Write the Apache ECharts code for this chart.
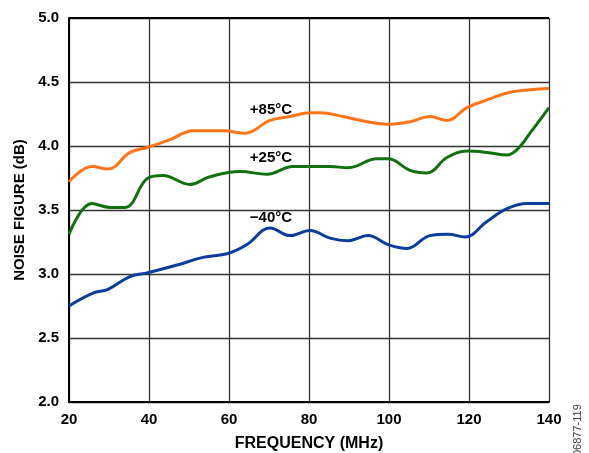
<!DOCTYPE html>
<html><head><meta charset="utf-8">
<script src="https://cdn.jsdelivr.net/npm/echarts@6/dist/echarts.min.js"></script>
<style>html,body{margin:0;padding:0;background:#fff}#c{width:589px;height:453px}</style>
</head><body><div id="c"></div>
<script>
const freqP85 = [20,25.75,29.75,35.25,39.75,45.25,51,58.5,64,70.25,75.25,80.25,82.75,88.5,94.5,99.5,105.25,110.25,114.5,119.5,124.5,130.25,135.25,140];
const nfP85   = [3.72,3.84,3.82,3.95,3.99,4.05,4.12,4.12,4.10,4.20,4.23,4.26,4.26,4.23,4.19,4.17,4.19,4.23,4.20,4.30,4.36,4.42,4.44,4.45];
const freqP25 = [20,25.75,30.25,34,39.75,43.5,50.25,55.25,62.75,69.5,76,80.25,85.25,89.75,97,99.75,105.25,109.5,114.5,119.5,124.5,129.5,132.25,135.25,140];
const nfP25   = [3.31,3.55,3.52,3.52,3.75,3.77,3.70,3.76,3.80,3.78,3.84,3.84,3.84,3.83,3.90,3.90,3.81,3.79,3.91,3.96,3.95,3.93,3.98,4.10,4.30];
const freqM40 = [20,26,29.75,35.25,39.75,47,53.5,59.75,64.5,70.25,75.25,80.25,85.25,89.75,94.75,99.75,104.5,110.25,114.75,119,124.5,129.5,134.5,140];
const nfM40   = [2.75,2.85,2.88,2.98,3.01,3.07,3.13,3.16,3.23,3.36,3.30,3.34,3.28,3.26,3.30,3.23,3.20,3.30,3.31,3.29,3.41,3.51,3.55,3.55];
const seriesNames = ['+85°C','+25°C','\u221240°C'];
const xTicks = [20,40,60,80,100,120,140];
const yTicks = [2.0,2.5,3.0,3.5,4.0,4.5,5.0];

const zip = (a,b)=>a.map((v,i)=>[v,b[i]]);
const font = 'Liberation Sans, Arial, sans-serif';
const chart = echarts.init(document.getElementById('c'));
const mk = (name, xs, ys, color) => ({
  name, type:'line', data: zip(xs,ys), smooth:0.4, symbol:'none',
  lineStyle:{color, width:3}, itemStyle:{color}
});
chart.setOption({
  animation:false,
  grid:{left:69,right:40,top:18,bottom:51,outerBoundsMode:'none',containLabel:false},
  xAxis:{type:'value',min:20,max:140,interval:20,
    name:'FREQUENCY (MHz)',nameLocation:'middle',nameGap:34,
    nameTextStyle:{fontFamily:font,fontWeight:'bold',fontSize:16,color:'#000'},
    axisLine:{show:true,lineStyle:{color:'#000',width:2}},
    axisTick:{show:false},
    axisLabel:{fontFamily:font,fontWeight:'bold',fontSize:15,color:'#000',margin:10,
      formatter:v=>xTicks.includes(v)?String(v):''},
    splitLine:{show:true,lineStyle:{color:'#333',width:1.3}}},
  yAxis:{type:'value',min:2,max:5,interval:0.5,
    name:'NOISE FIGURE (dB)',nameLocation:'middle',nameGap:39,
    nameTextStyle:{fontFamily:font,fontWeight:'bold',fontSize:15,color:'#000'},
    axisLine:{show:true,lineStyle:{color:'#000',width:2}},
    axisTick:{show:false},
    axisLabel:{fontFamily:font,fontWeight:'bold',fontSize:15,color:'#000',margin:10,
      formatter:v=>v.toFixed(1)},
    splitLine:{show:true,lineStyle:{color:'#333',width:1.3}}},
  series:[
    mk(seriesNames[0],freqP85,nfP85,'#FF7416'),
    mk(seriesNames[1],freqP25,nfP25,'#12700F'),
    mk(seriesNames[2],freqM40,nfM40,'#0A3D9C')
  ]
});
const lab = (txt, x, y) => {
  const p = chart.convertToPixel({gridIndex:0},[x,y]);
  return {type:'text',x:p[0],y:p[1],style:{text:txt,fill:'#000',font:'bold 15px '+font,align:'center',verticalAlign:'middle'}};
};
chart.setOption({graphic:[
  lab(seriesNames[0],70.5,4.285),
  lab(seriesNames[1],70.5,3.905),
  lab(seriesNames[2],70.5,3.435),
  {type:'text',x:578,y:456,rotation:Math.PI/2,style:{text:'06877-119',fill:'#444',font:'11px '+font,align:'left',verticalAlign:'middle'}},
  {type:'line',shape:{x1:69,y1:18,x2:549,y2:18},style:{stroke:'#000',lineWidth:2}}
]});
</script></body></html>
